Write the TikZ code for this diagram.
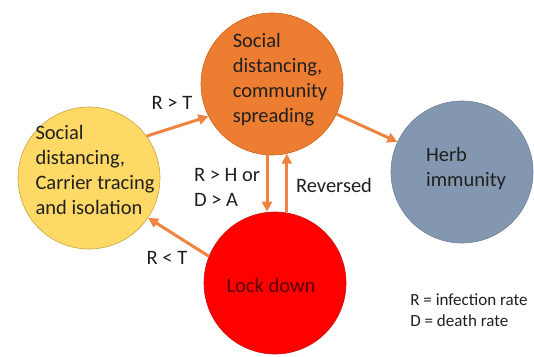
\documentclass[tikz,border=0pt]{standalone}
\usepackage{fontspec}
\setmainfont{Carlito}
\usetikzlibrary{arrows.meta}

\definecolor{ccorange}{HTML}{ED7D31}
\definecolor{ccorangedk}{HTML}{C9651F}
\definecolor{ccyellow}{HTML}{FFD966}
\definecolor{ccyellowdk}{HTML}{C9A640}
\definecolor{ccblue}{HTML}{8497B0}
\definecolor{ccbluedk}{HTML}{6F829C}
\definecolor{ccred}{HTML}{FF0000}
\definecolor{ccreddk}{HTML}{D01010}
\definecolor{ccarrow}{HTML}{EE8440}
\definecolor{ccdark}{HTML}{202020}
\definecolor{cclockdk}{HTML}{5A0000}

\tikzset{
  state/.style={circle, minimum size=142pt, inner sep=0pt, line width=0.6pt},
  txt/.style={align=left, font=\fontsize{20.5}{25}\selectfont, text=ccdark},
  cond/.style={align=left, font=\fontsize{20.5}{25}\selectfont, text=ccdark},
  flow/.style={-{Triangle[length=10pt,width=10pt]}, line width=3pt, draw=ccarrow},
}

\begin{document}
\begin{tikzpicture}[x=1pt, y=-1pt]

  \useasboundingbox (0,0) rectangle (534,356);

  % ── states ─────────────────────────────────────────────
  \node[state, fill=ccorange, draw=ccorangedk] (spread) at (272,84) {};
  \node[state, fill=ccyellow, draw=ccyellowdk] (trace)  at (89,178) {};
  \node[state, fill=ccblue,   draw=ccbluedk]   (herd)   at (462,172) {};
  \node[state, fill=ccred,    draw=ccreddk]    (lock)   at (275,283) {};

  % text inside the states
  \node[txt] (spreadtxt) at (280,80) {Social\\distancing,\\community\\spreading};
  \node[txt] (tracetxt)  at (95,170) {Social\\distancing,\\Carrier tracing\\and isolation};
  \node[txt] (herdtxt)   at (466,169) {Herb\\immunity};
  \node[txt, text=cclockdk] (locktxt) at (271,285) {Lock down};

  % ── transitions ────────────────────────────────────────
  \draw[flow] (trace.36) -- (spread.207);
  \draw[flow] (spread.-25) -- (herd.155);
  \draw[flow] (spread.266) -- (spread.266 |- lock.north);
  \draw[flow] (spread.-78 |- lock.north) -- (spread.-78);
  \draw[flow] (lock.158) -- (trace.-34);

  % conditions
  \node[cond] (rgt)  at (172,103) {R > T};
  \node[cond] (rhda) at (227,187) {R > H or\\D > A};
  \node[cond] (rev)  at (334,185) {Reversed};
  \node[cond] (rlt)  at (167,258) {R < T};

  % legend
  \node[cond, font=\fontsize{17}{21}\selectfont] (legend) at (469,310)
    {R = infection rate\\D = death rate};

\end{tikzpicture}
\end{document}
